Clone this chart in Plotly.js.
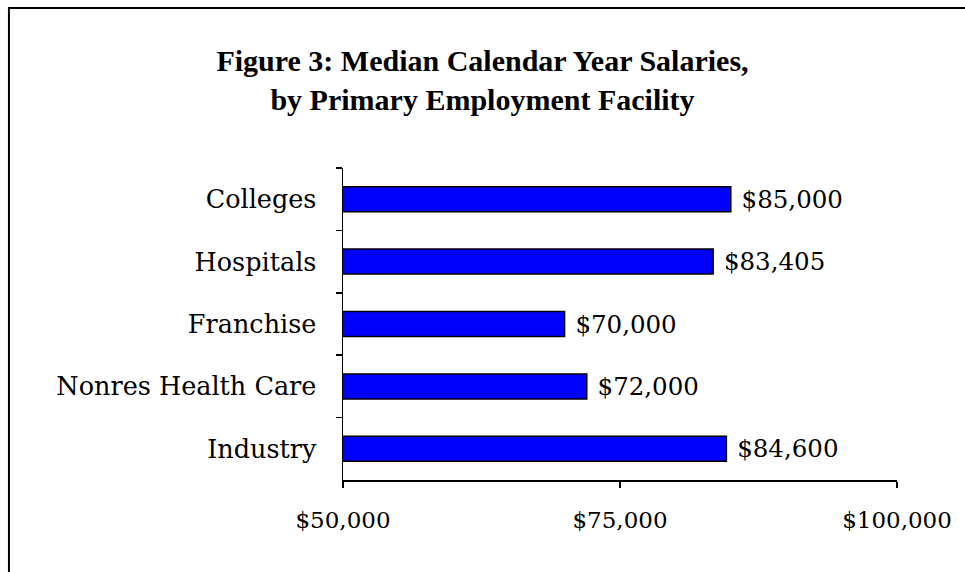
<!DOCTYPE html>
<html>
<head>
<meta charset="utf-8">
<script src="https://cdn.plot.ly/plotly-3.0.1.min.js"></script>
<style>
  html, body { margin: 0; padding: 0; background: #ffffff; }
  #chart { width: 965px; height: 572px; }
</style>
</head>
<body>
<div id="chart"></div>
<script>
// Median salary per facility, top to bottom as in the figure
const facilities = ['Colleges', 'Hospitals', 'Franchise', 'Nonres Health Care', 'Industry'];
const salaries = [85000, 83405, 70000, 72000, 84600];
const xTicks = [50000, 75000, 100000];
const xTickLabels = ['$50,000', '$75,000', '$100,000'];

const serif = '"DejaVu Serif", "Liberation Serif", serif';
const titleSerif = '"Liberation Serif", serif';

// Format the bar labels like $85,000 (leading nbsp gives the gap after the bar)
const labels = salaries.map(v => '\u00a0$' + v.toLocaleString('en-US'));

Plotly.newPlot('chart', [
  {
    type: 'bar',
    orientation: 'h',
    y: facilities,
    x: salaries,
    base: 0,
    text: labels,
    textposition: 'outside',
    constraintext: 'none',
    textfont: { family: serif, size: 24.5, color: '#000000' },
    cliponaxis: false,
    marker: { color: '#0000ff', line: { color: '#000000', width: 1.5 } },
    hoverinfo: 'skip',
  },
], {
  title: {
    text: '<b>Figure 3: Median Calendar Year Salaries,<br>by Primary Employment Facility</b>',
    font: { family: titleSerif, size: 30, color: '#000000' },
    x: 0.5,
    xanchor: 'center',
    y: 0.876,
    yanchor: 'middle',
  },
  xaxis: {
    range: [50000, 100000],
    tickvals: xTicks,
    ticktext: xTickLabels,
    ticks: 'outside',
    ticklen: 6,
    tickwidth: 1.5,
    tickcolor: '#000000',
    showline: true,
    linecolor: '#000000',
    linewidth: 1.5,
    showgrid: false,
    zeroline: false,
    tickfont: { family: serif, size: 23, color: '#000000' },
    ticklabelstandoff: 13,
    fixedrange: true,
  },
  yaxis: {
    type: 'category',
    categoryorder: 'array',
    categoryarray: facilities,
    autorange: 'reversed',
    ticks: 'outside',
    tickson: 'boundaries',
    ticklen: 6,
    tickwidth: 1.5,
    tickcolor: '#000000',
    showline: true,
    linecolor: '#000000',
    linewidth: 1.5,
    showgrid: false,
    tickfont: { family: serif, size: 25.5, color: '#000000' },
    ticklabelstandoff: 20,
    fixedrange: true,
  },
  bargap: 0.6,
  showlegend: false,
  margin: { t: 168, r: 68, l: 343, b: 92 },
  paper_bgcolor: '#ffffff',
  plot_bgcolor: '#ffffff',
  shapes: [
    {
      type: 'rect',
      xref: 'paper', yref: 'paper',
      x0: -0.603, x1: 1.3,
      y0: -0.5, y1: 1.513,
      line: { color: '#000000', width: 2 },
      fillcolor: 'rgba(0,0,0,0)',
    },
  ],
}, { staticPlot: true });
</script>
</body>
</html>
